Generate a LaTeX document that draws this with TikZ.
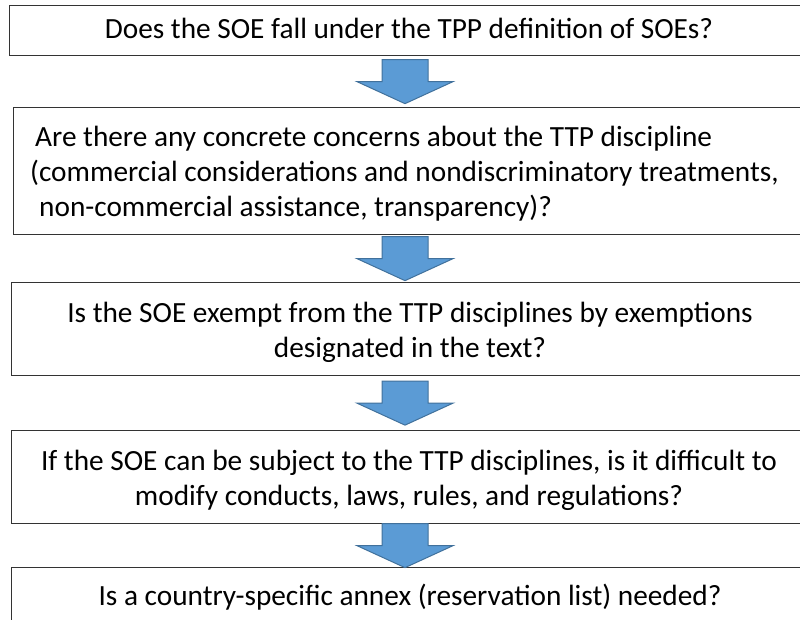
\documentclass[tikz,border=0pt]{standalone}
\usepackage{fontspec}
\setmainfont{Carlito}
\usetikzlibrary{positioning,calc}
\tikzset{
  question/.style={
    % The shape:
    rectangle,
    % The border:
    line width=1.3pt,
    draw=black!80,
    fill=white,
    inner sep=0pt,
    anchor=north west
  },
  qtext/.style={
    % Font
    font=\fontsize{29.3}{35}\selectfont,
    inner sep=0pt,
    align=center,
    anchor=base   % baseline of the last line
  },
  arrowfill/.style={
    % The border and filling:
    line width=1pt,
    draw={rgb,255:red,65;green,113;blue,156},
    fill={rgb,255:red,91;green,155;blue,213}
  },
  % a fat arrow pointing down, centred on its head base
  down arrow/.pic={
    \path[pic actions] (-23,-22) -- (23,-22) -- (23,0) -- (48,0)
      -- (0,22) -- (-48,0) -- (-23,0) -- cycle;
  }
}

\begin{document}
\begin{tikzpicture}[x=1pt,y=-1pt]
  \useasboundingbox (0,0) rectangle (800,619);
  \clip (0,0) rectangle (800,619);
  \coordinate (axis) at (405,0);

  % the five questions
  \node (q1) [question,minimum width=810pt,minimum height=50pt] at (9,5)    {};
  \node (q2) [question,minimum width=810pt,minimum height=127pt] at (13,107) {};
  \node (q3) [question,minimum width=810pt,minimum height=93pt] at (11,282)  {};
  \node (q4) [question,minimum width=810pt,minimum height=93pt] at (11,430)  {};
  \node (q5) [question,minimum width=810pt,minimum height=90pt] at (11,567)  {};

  \node (t1) [qtext] at (409,38) {Does the SOE fall under the TPP definition of SOEs?};
  \node (t2) [qtext,align=left,anchor=base west] at (30,216)
    {\hspace{5pt}Are there any concrete concerns about the TTP discipline\\
     (commercial considerations and nondiscriminatory treatments,\\
     \hspace{9pt}non-commercial assistance, transparency)?};
  \node (t3) [qtext] at (410,357) {Is the SOE exempt from the TTP disciplines by exemptions\\
     designated in the text?};
  \node (t4) [qtext] at (409,505) {If the SOE can be subject to the TTP disciplines, is it difficult to\\
     modify conducts, laws, rules, and regulations?};
  \node (t5) [qtext] at (410,605) {Is a country-specific annex (reservation list) needed?};

  % block arrows between them
  \pic[arrowfill] (a1) at ($(q1.south -| axis)!0.5!(q2.north -| axis)$) {down arrow};
  \pic[arrowfill] (a2) at ($(q2.south -| axis)!0.5!(q3.north -| axis)$) {down arrow};
  \pic[arrowfill] (a3) at ($(q3.south -| axis)!0.5!(q4.north -| axis)$) {down arrow};
  \pic[arrowfill] (a4) at ($(q4.south -| axis)!0.5!(q5.north -| axis)$) {down arrow};
\end{tikzpicture}
\end{document}
